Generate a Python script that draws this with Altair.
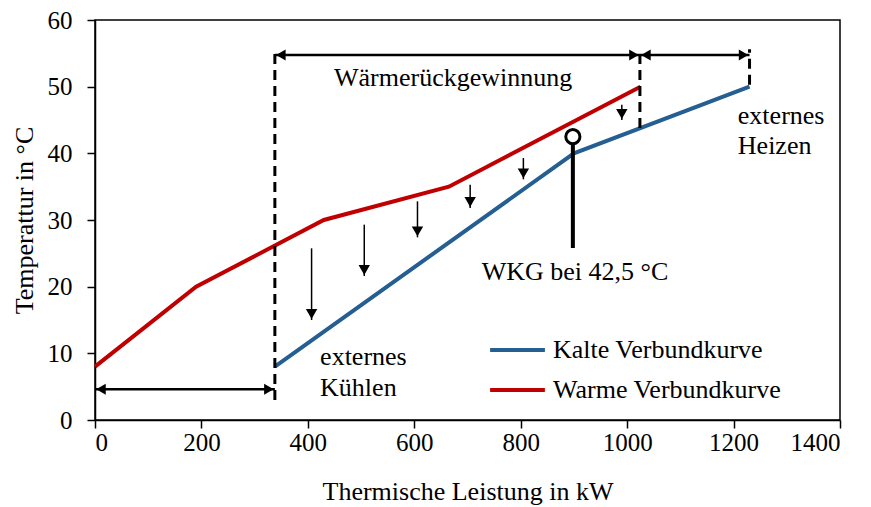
import altair as alt
import pandas as pd

FONT = "Liberation Serif, Times New Roman, serif"

# Composite curves
warm_x = [0, 190, 430, 665, 1025]
warm_y = [8, 20, 30, 35, 50]
cold_x = [338, 900, 1230]
cold_y = [8, 40, 50]
series_names = ["Kalte Verbundkurve", "Warme Verbundkurve"]
series_colors = ["#255E91", "#C00000"]

# Vertical down arrows (heat transfer)
down_x = [407, 506, 606, 705, 805, 990]
down_top = [25.75, 29.3, 32.8, 35.3, 39.3, 47.3]
down_bot = [15.0, 21.6, 27.4, 31.8, 36.1, 45.0]

# Dashed separators
dash_x = [338, 1024, 1230]
dash_y1 = [3.0, 43.8, 50.3]
dash_y2 = [55.3, 55.6, 55.6]

# Horizontal double arrows
harrow_x1 = [338, 1024, 0]
harrow_x2 = [1024, 1230, 338]
harrow_y = [54.75, 54.75, 4.6]

# Pinch point
pinch_x = [898]
pinch_y = [42.5]
pinch_stem_bot = [25.8]
pinch_stem_top = [41.4]

# Text labels
label_text = ["Wärmerückgewinnung", "externes", "Heizen", "externes", "Kühlen", "WKG bei 42,5 °C"]
label_x = [673, 1208, 1208, 423, 423, 902]
label_y = [51.3, 45.6, 41.1, 9.5, 4.8, 22.2]
label_align = ["center", "left", "left", "left", "left", "center"]

x_ticks = [0, 200, 400, 600, 800, 1000, 1200, 1400]
y_ticks = [0, 10, 20, 30, 40, 50, 60]

lines_df = pd.DataFrame(
    {"x": warm_x + cold_x,
     "y": warm_y + cold_y,
     "s": [series_names[1]] * len(warm_x) + [series_names[0]] * len(cold_x),
     "o": list(range(len(warm_x))) + list(range(len(cold_x)))}
)
down_df = pd.DataFrame({"x": down_x, "y1": down_top, "y2": down_bot})
dash_df = pd.DataFrame({"x": dash_x, "y1": dash_y1, "y2": dash_y2})
harrow_df = pd.DataFrame({"x1": harrow_x1, "x2": harrow_x2, "y": harrow_y})
pinch_df = pd.DataFrame({"x": pinch_x, "y": pinch_y, "yb": pinch_stem_bot, "yt": pinch_stem_top})
text_df = pd.DataFrame({"t": label_text, "x": label_x, "y": label_y, "a": label_align})

xs = alt.Scale(domain=[0, 1400], nice=False)
ys = alt.Scale(domain=[0, 60], nice=False)

X = lambda f: alt.X(f, type="quantitative", scale=xs,
                    axis=alt.Axis(values=x_ticks, format="d", title="Thermische Leistung in kW",
                                  labelPadding=2, titlePadding=23))
Y = lambda f: alt.Y(f, type="quantitative", scale=ys,
                    axis=alt.Axis(values=y_ticks, format="d", title="Temperattur in °C",
                                  labelPadding=15, titlePadding=10))

lines = alt.Chart(lines_df).mark_line(strokeWidth=4).encode(
    x=X("x"), y=Y("y"), order="o:Q",
    color=alt.Color("s:N", scale=alt.Scale(domain=series_names, range=series_colors),
                    legend=alt.Legend(title=None, orient="none", legendX=393, legendY=315,
                                      symbolType="stroke", symbolSize=3000,
                                      symbolStrokeWidth=4, labelFont=FONT,
                                      labelFontSize=26, labelColor="black", labelLimit=500,
                                      labelOffset=6, clipHeight=30, rowPadding=10, padding=0)),
)

down_shaft = alt.Chart(down_df).mark_rule(strokeWidth=1.5, color="black").encode(
    x=X("x"), y=Y("y1"), y2="y2")
down_head = alt.Chart(down_df).mark_point(shape="triangle-down", filled=True, color="black",
                                          size=130, opacity=1, yOffset=-6).encode(
    x=X("x"), y=Y("y2"))

dashes = alt.Chart(dash_df).mark_rule(strokeWidth=3, color="black", strokeDash=[10, 6]).encode(
    x=X("x"), y=Y("y1"), y2="y2")

h_shaft = alt.Chart(harrow_df).mark_rule(strokeWidth=2.5, color="black").encode(
    x=X("x1"), x2="x2", y=Y("y"))
h_left = alt.Chart(harrow_df).mark_point(shape="triangle-left", filled=True, color="black",
                                         size=120, opacity=1, xOffset=6).encode(
    x=X("x1"), y=Y("y"))
h_right = alt.Chart(harrow_df).mark_point(shape="triangle-right", filled=True, color="black",
                                          size=120, opacity=1, xOffset=-6).encode(
    x=X("x2"), y=Y("y"))

stem = alt.Chart(pinch_df).mark_rule(strokeWidth=4, color="black").encode(
    x=X("x"), y=Y("yb"), y2="yt")
circle = alt.Chart(pinch_df).mark_point(shape="circle", filled=True, fill="white", stroke="black",
                                        strokeWidth=3, size=200, opacity=1).encode(
    x=X("x"), y=Y("y"))

texts_c = alt.Chart(text_df[text_df.a == "center"]).mark_text(
    font=FONT, fontSize=26, color="black", baseline="middle", align="center").encode(
    x=X("x"), y=Y("y"), text="t:N")
texts_l = alt.Chart(text_df[text_df.a == "left"]).mark_text(
    font=FONT, fontSize=26, color="black", baseline="middle", align="left").encode(
    x=X("x"), y=Y("y"), text="t:N")

chart = alt.layer(
    lines, dashes, down_shaft, down_head, h_shaft, h_left, h_right, stem, circle, texts_c, texts_l
).properties(
    width=745, height=400,
    padding={"left": 87, "top": 12, "right": 20, "bottom": 86},
    autosize=alt.AutoSizeParams(type="none"),
).configure_view(
    stroke="black", strokeWidth=1.5
).configure_axis(
    grid=False, labelFont=FONT, labelFontSize=25, labelColor="black",
    titleFont=FONT, titleFontSize=26, titleFontWeight="normal", titleColor="black",
    domainColor="black", domainWidth=1.5, tickColor="black", tickSize=8, tickWidth=1.5,
)

chart.save("out.html", embed_options={"renderer": "svg", "actions": False})
